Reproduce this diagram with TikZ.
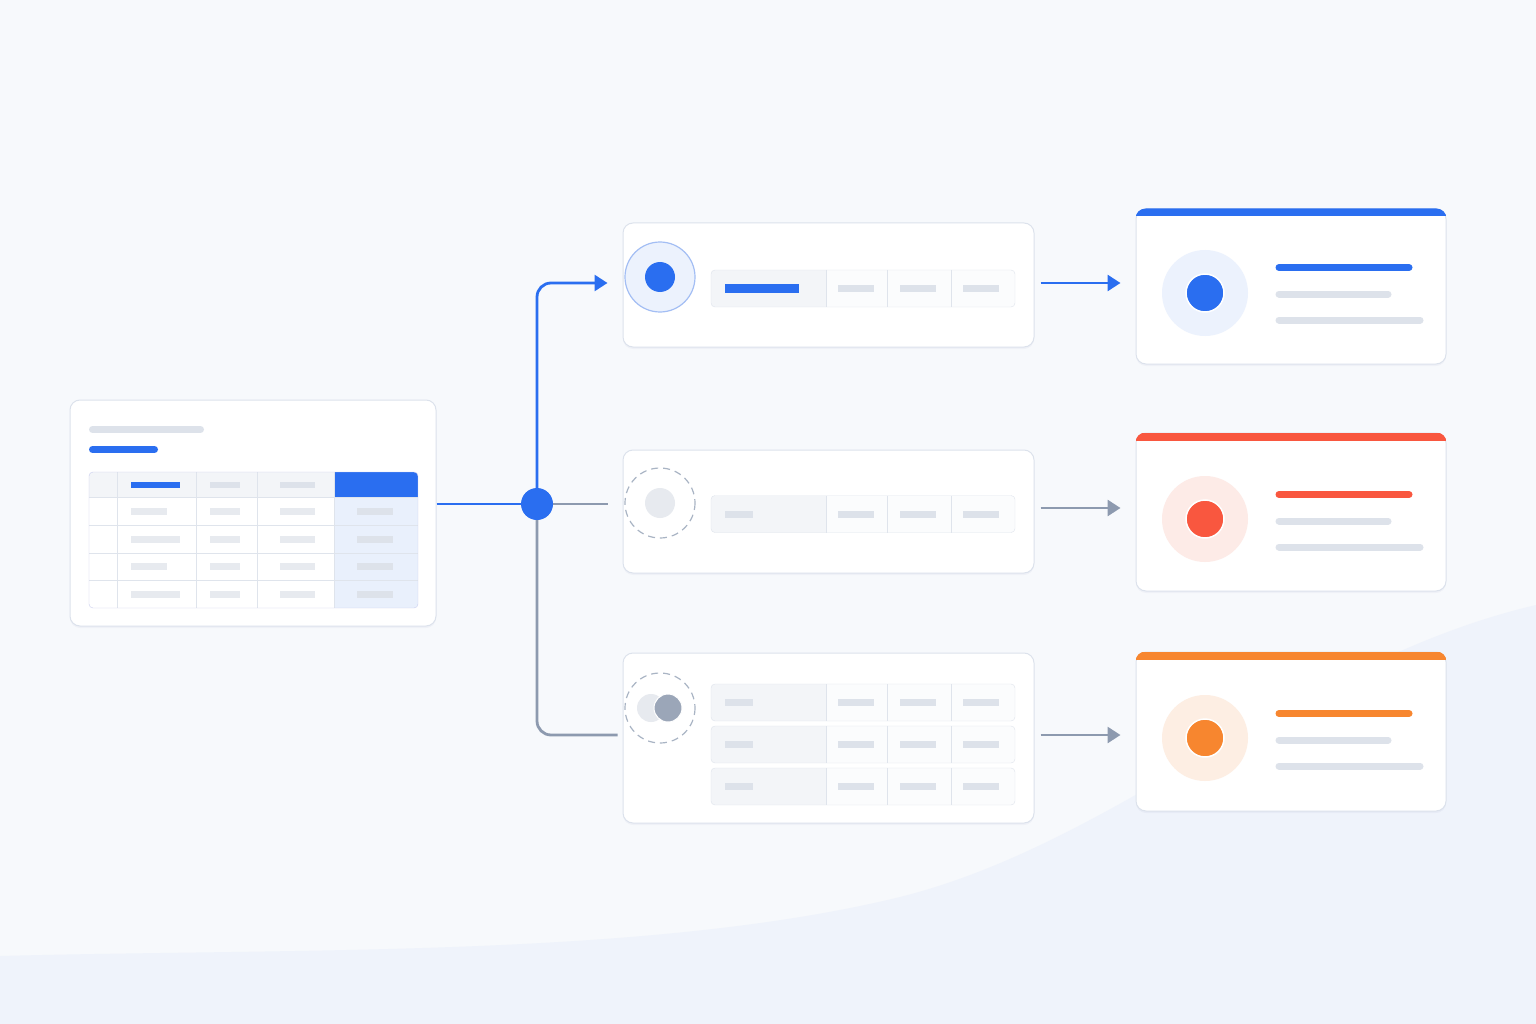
\documentclass[tikz,border=0pt]{standalone}
\usepackage{tikz}
\usetikzlibrary{shapes,arrows.meta,shadows}
\definecolor{bgtop}{HTML}{F7F9FC}
\definecolor{bgwave}{HTML}{EFF3FB}
\definecolor{cardline}{HTML}{DCE2EC}
\definecolor{accblue}{HTML}{2A6EF0}
\definecolor{accred}{HTML}{F9573F}
\definecolor{accorange}{HTML}{F7862F}
\definecolor{wire}{HTML}{8D9AAF}
\definecolor{barfill}{HTML}{DDE2EA}
\definecolor{cellbar}{HTML}{E7EAEF}
\definecolor{cellgray}{HTML}{F3F5F8}
\definecolor{stripbg}{HTML}{FBFCFD}
\definecolor{colblue}{HTML}{E9F0FC}
\definecolor{gridline}{HTML}{DFE4EC}
\definecolor{haloblue}{HTML}{ECF2FD}
\definecolor{halored}{HTML}{FDEBE7}
\definecolor{haloorange}{HTML}{FDEEE3}
\definecolor{ringblue}{HTML}{A3BEF4}
\definecolor{dashgray}{HTML}{A9B4C4}
\definecolor{slate}{HTML}{9BA6B8}
\tikzstyle{card}=[rectangle,rounded corners=10pt,draw=cardline,fill=white,line width=1pt,inner sep=0pt,drop shadow={shadow xshift=0pt,shadow yshift=-2pt,opacity=.03,fill=blue!40!black}]
\tikzstyle{pill}=[line width=7pt,line cap=round]
\tikzstyle{wireblue}=[draw=accblue,line width=2.8pt]
\tikzstyle{wiregray}=[draw=wire,line width=2.8pt]
\tikzstyle{tip}=[-{Triangle[length=13pt,width=16pt]}]
\tikzstyle{dashring}=[draw=dashgray,line width=1.2pt,dash pattern=on 7pt off 5pt,fill=white]

\begin{document}
\begin{tikzpicture}[x=1pt,y=-1pt]
\useasboundingbox (0,0) rectangle (1536,1024);
\fill[bgtop] (0,0) rectangle (1536,1024);
\fill[bgwave] (0,956) .. controls (300,948) and (650,958) .. (900,897) .. controls (1120,842) and (1300,660) .. (1536,605) -- (1536,1024) -- (0,1024) -- cycle;

% cards
\node[card,minimum width=366pt,minimum height=226pt] (src) at (253,513) {};
\node[card,minimum width=411pt,minimum height=124pt] (mid1) at (828.5,285) {};
\node[card,minimum width=411pt,minimum height=123pt] (mid2) at (828.5,511.5) {};
\node[card,minimum width=411pt,minimum height=170pt] (mid3) at (828.5,738) {};
\node[card,minimum width=310pt,minimum height=155pt] (out1) at (1291,286.5) {};
\node[card,minimum width=310pt,minimum height=158pt] (out2) at (1291,512) {};
\node[card,minimum width=310pt,minimum height=159pt] (out3) at (1291,731.5) {};
\foreach \n/\c in {out1/accblue,out2/accred,out3/accorange}{
  \begin{scope}
  \clip[rounded corners=10pt] (\n.south west) rectangle (\n.north east);
  \fill[\c] (\n.north west) rectangle ([yshift=-8pt]\n.north east);
  \end{scope}}

% source table
\draw[pill,draw=barfill] (92.5,429.5) -- (200.5,429.5);
\draw[pill,draw=accblue] (92.5,449.5) -- (154.5,449.5);
\begin{scope}
\clip[rounded corners=4pt] (89,472) rectangle (418,608);
\fill[cellgray] (89,472) rectangle (334,497);
\fill[accblue] (334,472) rectangle (418,497);
\fill[colblue] (334,497) rectangle (418,608);
\foreach \y in {497,525,553,580} \draw[gridline] (89,\y) -- (418,\y);
\foreach \x in {117,196,257,334} \draw[gridline] (\x,472) -- (\x,608);
\end{scope}
\draw[gridline!90!blue,rounded corners=4pt] (89,472) rectangle (418,608);
\fill[accblue] (131,482) rectangle (180,488);
\fill[barfill] (210,482) rectangle (240,488);
\fill[barfill] (280,482) rectangle (315,488);
\foreach \y/\w in {511/167,539/180,566/167,594/180}{
  \fill[cellbar] (131,\y-3.5) rectangle (\w,\y+3.5);
  \fill[cellbar] (210,\y-3.5) rectangle (240,\y+3.5);
  \fill[cellbar] (280,\y-3.5) rectangle (315,\y+3.5);
  \fill[barfill] (357,\y-3.5) rectangle (393,\y+3.5);}

% hub and wires
\node[circle,fill=accblue,minimum size=32pt,inner sep=0pt] (hub) at (537,504) {};
\draw[wireblue] (src.east |- hub) -- (hub.west);
\draw[wireblue,tip,rounded corners=14pt] (hub.north) |- ([xshift=-15pt,yshift=2pt]mid1.west);
\draw[wiregray] (hub.east) -- ([xshift=-15pt]mid2.west |- hub);
\draw[wiregray,rounded corners=14pt] (hub.south) |- ([xshift=-5pt,yshift=3pt]mid3.west);
\draw[wireblue,tip,shorten <=6pt,shorten >=15pt] ([yshift=2pt]mid1.east) -- ([yshift=2pt]mid1.east -| out1.west);
\draw[wiregray,tip,shorten <=6pt,shorten >=15pt] ([yshift=3.5pt]mid2.east) -- ([yshift=3.5pt]mid2.east -| out2.west);
\draw[wiregray,tip,shorten <=6pt,shorten >=15pt] ([yshift=3pt]mid3.east) -- ([yshift=3pt]mid3.east -| out3.west);

% strips
\foreach \y in {288.5,514,702.5,744.5,786.5}{
  \begin{scope}
  \clip[rounded corners=4pt] (711,\y-18.5) rectangle (1015,\y+18.5);
  \fill[stripbg] (711,\y-18.5) rectangle (1015,\y+18.5);
  \fill[cellgray] (711,\y-18.5) rectangle (826,\y+18.5);
  \end{scope}
  \draw[gridline,rounded corners=4pt] (711,\y-18.5) rectangle (1015,\y+18.5);
  \foreach \x in {826,887,951} \draw[gridline] (\x,\y-18.5) -- (\x,\y+18.5);
  \foreach \x in {838,900,963} \fill[barfill] (\x,\y-3.5) rectangle (\x+36,\y+3.5);}
\fill[accblue] (725,284) rectangle (799,292.5);
\foreach \y in {514,702.5,744.5,786.5} \fill[barfill] (725,\y-3.5) rectangle (753,\y+3.5);

% icons
\filldraw[fill=haloblue,draw=ringblue,line width=1.2pt] (660,277) circle (35);
\fill[accblue] (660,277) circle (15);
\draw[dashring] (660,503) circle (35);
\fill[cellbar] (660,503) circle (15);
\draw[dashring] (660,708) circle (35);
\fill[cellbar] (651,708) circle (14);
\filldraw[fill=slate,draw=white,line width=1pt] (668,708) circle (14);
\foreach \y/\h/\c in {293/haloblue/accblue,519/halored/accred,738/haloorange/accorange}{
  \fill[\h] (1205,\y) circle (43);
  \filldraw[fill=\c,draw=white,line width=1.5pt] (1205,\y) circle (19);}
\foreach \y/\c in {267.5/accblue,494.5/accred,713.5/accorange}{
  \draw[pill,draw=\c] (1279,\y) -- (1409,\y);
  \draw[pill,draw=barfill] (1279,\y+26.5) -- (1388,\y+26.5);
  \draw[pill,draw=barfill] (1279,\y+52.5) -- (1420,\y+52.5);}
\end{tikzpicture}
\end{document}
